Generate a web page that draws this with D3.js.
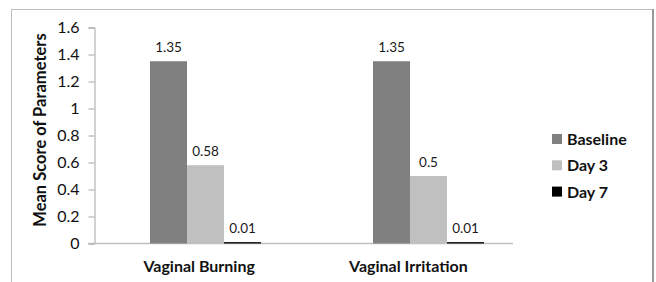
<!DOCTYPE html>
<html><head><meta charset="utf-8">
<script src="https://cdn.jsdelivr.net/npm/d3@7"></script>
<style>
html,body{margin:0;padding:0;background:#fff;}
svg{display:block;font-family:Lato,"Open Sans",sans-serif;}
</style></head>
<body><svg id="c" width="656" height="282"></svg>
<script>
const categories = ["Vaginal Burning", "Vaginal Irritation"];
const seriesNames = ["Baseline", "Day 3", "Day 7"];
const baseline = [1.35, 1.35];
const day3 = [0.58, 0.5];
const day7 = [0.01, 0.01];
const seriesColors = ["#808080", "#c0c0c0", "#000000"];
const yTicks = [0, 0.2, 0.4, 0.6, 0.8, 1, 1.2, 1.4, 1.6];
const yTitle = "Mean Score of Parameters";

const values = [baseline, day3, day7];
const svg = d3.select("#c");

// outer frame
svg.append("rect").attr("x", 11.5).attr("y", 9.5).attr("width", 641).attr("height", 290)
  .attr("fill", "none").attr("stroke", "#bfbfbf").attr("stroke-width", 1);
svg.append("line").attr("x1", 653).attr("x2", 653).attr("y1", 9).attr("y2", 282)
  .attr("stroke", "#9a9a9a").attr("stroke-width", 2);

const y = d3.scaleLinear().domain([0, 1.6]).range([243.5, 27.5]);
const xLab = d3.scaleBand().domain(categories).range([94.5, 513]);
const xGroup = d3.scalePoint().domain(categories).range([205.5, 428.5]);
const xSeries = d3.scaleBand().domain(seriesNames).range([-55.5, 55.5]);

// y axis
const yAxis = svg.append("g").attr("transform", "translate(94.5,0)")
  .call(d3.axisLeft(y).tickValues(yTicks).tickSize(6).tickPadding(9).tickFormat(d3.format("")));
yAxis.select(".domain").attr("stroke", "#a6a6a6");
yAxis.selectAll(".tick line").attr("stroke", "#a6a6a6");
yAxis.selectAll(".tick text").attr("font-size", 16).attr("fill", "#111")
  .attr("font-family", "Lato, sans-serif");

// x axis line
svg.append("line").attr("x1", 88).attr("x2", 513).attr("y1", 243.5).attr("y2", 243.5)
  .attr("stroke", "#c0c0c0").attr("stroke-width", 1.5);

// bars
seriesNames.forEach((s, si) => {
  const g = svg.append("g");
  categories.forEach((c, ci) => {
    const v = values[si][ci];
    const x0 = xGroup(c) + xSeries(s);
    g.append("rect").attr("x", x0).attr("y", y(v))
      .attr("width", xSeries.bandwidth()).attr("height", Math.max(1, y(0) - y(v)))
      .attr("fill", seriesColors[si]);
    g.append("text").attr("x", x0 + xSeries.bandwidth() / 2).attr("y", y(v) - 9)
      .attr("text-anchor", "middle").attr("font-size", 13.5).attr("fill", "#1a1a1a")
      .text(d3.format("")(v));
  });
});

// category labels
categories.forEach(c => {
  svg.append("text").attr("x", xLab(c) + xLab.bandwidth() / 2).attr("y", 272)
    .attr("text-anchor", "middle").attr("font-size", 16).attr("font-weight", "bold")
    .attr("fill", "#111").text(c);
});

// y title
svg.append("text").attr("transform", "translate(40,130) rotate(-90)")
  .attr("text-anchor", "middle").attr("dominant-baseline", "central")
  .attr("font-size", 16.5).attr("font-weight", "bold")
  .attr("fill", "#111").text(yTitle);

// legend
const leg = svg.append("g");
seriesNames.forEach((s, i) => {
  const cy = 139 + i * 26.3;
  leg.append("rect").attr("x", 552).attr("y", cy - 5).attr("width", 10).attr("height", 10)
    .attr("fill", seriesColors[i]);
  leg.append("text").attr("x", 567).attr("y", cy + 6).attr("font-size", 16)
    .attr("font-weight", "bold").attr("fill", "#111").text(s);
});
</script></body></html>
